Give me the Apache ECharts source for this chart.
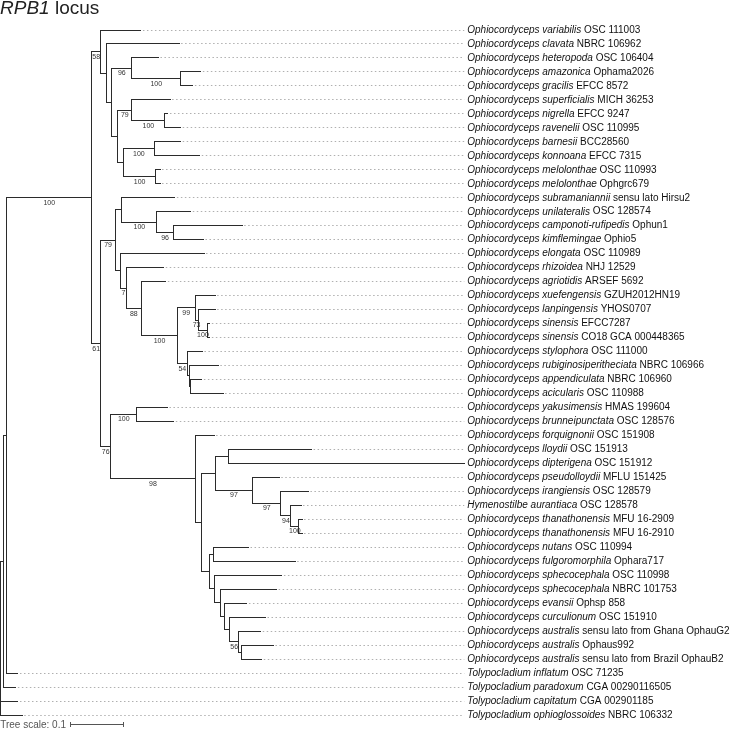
<!DOCTYPE html>
<html><head><meta charset="utf-8">
<script src="https://cdn.jsdelivr.net/npm/echarts@6/dist/echarts.min.js"></script>
<style>html,body{margin:0;padding:0;background:#fff}#c{width:730px;height:730px}</style>
</head><body><div id="c"></div>
<script>
// ---- data ----
const taxa = [
['Ophiocordyceps variabilis','OSC 111003'],
['Ophiocordyceps clavata','NBRC 106962'],
['Ophiocordyceps heteropoda','OSC 106404'],
['Ophiocordyceps amazonica','Ophama2026'],
['Ophiocordyceps gracilis','EFCC 8572'],
['Ophiocordyceps superficialis','MICH 36253'],
['Ophiocordyceps nigrella','EFCC 9247'],
['Ophiocordyceps ravenelii','OSC 110995'],
['Ophiocordyceps barnesii','BCC28560'],
['Ophiocordyceps konnoana','EFCC 7315'],
['Ophiocordyceps melolonthae','OSC 110993'],
['Ophiocordyceps melolonthae','Ophgrc679'],
['Ophiocordyceps subramaniannii','sensu lato Hirsu2'],
['Ophiocordyceps unilateralis','OSC 128574'],
['Ophiocordyceps camponoti-rufipedis','Ophun1'],
['Ophiocordyceps kimflemingae','Ophio5'],
['Ophiocordyceps elongata','OSC 110989'],
['Ophiocordyceps rhizoidea','NHJ 12529'],
['Ophiocordyceps agriotidis','ARSEF 5692'],
['Ophiocordyceps xuefengensis','GZUH2012HN19'],
['Ophiocordyceps lanpingensis','YHOS0707'],
['Ophiocordyceps sinensis','EFCC7287'],
['Ophiocordyceps sinensis','CO18 GCA 000448365'],
['Ophiocordyceps stylophora','OSC 111000'],
['Ophiocordyceps rubiginosiperitheciata','NBRC 106966'],
['Ophiocordyceps appendiculata','NBRC 106960'],
['Ophiocordyceps acicularis','OSC 110988'],
['Ophiocordyceps yakusimensis','HMAS 199604'],
['Ophiocordyceps brunneipunctata','OSC 128576'],
['Ophiocordyceps forquignonii','OSC 151908'],
['Ophiocordyceps lloydii','OSC 151913'],
['Ophiocordyceps dipterigena','OSC 151912'],
['Ophiocordyceps pseudolloydii','MFLU 151425'],
['Ophiocordyceps irangiensis','OSC 128579'],
['Hymenostilbe aurantiaca','OSC 128578'],
['Ophiocordyceps thanathonensis','MFU 16-2909'],
['Ophiocordyceps thanathonensis','MFU 16-2910'],
['Ophiocordyceps nutans','OSC 110994'],
['Ophiocordyceps fulgoromorphila','Ophara717'],
['Ophiocordyceps sphecocephala','OSC 110998'],
['Ophiocordyceps sphecocephala','NBRC 101753'],
['Ophiocordyceps evansii','Ophsp 858'],
['Ophiocordyceps curculionum','OSC 151910'],
['Ophiocordyceps australis','sensu lato from Ghana OphauG2'],
['Ophiocordyceps australis','Ophaus992'],
['Ophiocordyceps australis','sensu lato from Brazil OphauB2'],
['Tolypocladium inflatum','OSC 71235'],
['Tolypocladium paradoxum','CGA 00290116505'],
['Tolypocladium capitatum','CGA 002901185'],
['Tolypocladium ophioglossoides','NBRC 106332']
];

// distance from root of each tip (substitutions/site)
const tipDepth = [
0.265,0.337,0.298,0.378,0.363,0.320,0.316,0.340,0.340,0.376,
0.301,0.301,0.329,0.359,0.456,0.383,0.384,0.308,0.312,0.405,
0.405,0.395,0.395,0.381,0.411,0.380,0.420,0.315,0.327,0.403,
0.587,0.875,0.526,0.581,0.567,0.569,0.569,0.468,0.556,0.531,
0.521,0.465,0.500,0.491,0.515,0.493,0.033,0.029,0.033,0.041
];

// internal nodes: [id, depth, bootstrap, children (tip index or node id)]
const clades = [
['root',0.000,'',['T1',48,49]],
['T1',0.005,'',['T2',47]],
['T2',0.012,'',['A',46]],
['A',0.172,'100',['B','C']],
['B',0.189,'58',[0,'D']],
['D',0.200,'',[1,'E']],
['E',0.210,'',['F','G']],
['F',0.248,'96',[2,'H']],
['H',0.340,'100',[3,4]],
['G',0.221,'',['I','J']],
['I',0.248,'79',[5,'K']],
['K',0.310,'100',[6,7]],
['J',0.232,'',['L','M']],
['L',0.290,'100',[8,9]],
['M',0.293,'100',[10,11]],
['C',0.189,'61',['N','O']],
['N',0.217,'79',['P','Q']],
['P',0.229,'',[12,'R']],
['R',0.295,'100',[13,'S']],
['S',0.326,'96',[14,15]],
['Q',0.227,'',[16,'T']],
['T',0.237,'7',[17,'U']],
['U',0.266,'88',[18,'V']],
['V',0.334,'100',['W','X']],
['W',0.367,'99',[19,'Y']],
['Y',0.373,'73',[20,'Z']],
['Z',0.391,'100',[21,22]],
['X',0.352,'54',[23,'AB']],
['AB',0.356,'',[24,'AC']],
['AC',0.359,'',[25,26]],
['O',0.208,'76',['AD','AF']],
['AD',0.257,'100',[27,28]],
['AF',0.367,'98',[29,'AG']],
['AG',0.380,'',['AN','AO']],
['AN',0.405,'',['AH','AJ']],
['AH',0.430,'',[30,31]],
['AJ',0.476,'97',[32,'AK']],
['AK',0.529,'97',[33,'AL']],
['AL',0.548,'94',[34,'AM']],
['AM',0.563,'100',[35,36]],
['AO',0.394,'',['AP','AQ']],
['AP',0.402,'',[37,38]],
['AQ',0.403,'',[39,'AR']],
['AR',0.416,'',[40,'AS']],
['AS',0.422,'',[41,'AT']],
['AT',0.433,'',[42,'AU']],
['AU',0.449,'56',[43,'AV']],
['AV',0.455,'',[44,45]]
];

const titleItalic = 'RPB1';
const titleRest = ' locus';
const scaleLength = 0.1;
const scaleText = 'Tree scale: 0.1';

// ---- layout (rectangular cladogram, node y = midpoint of outer children) ----
const maxDepth = 0.875;
const nodeMap = {};
clades.forEach(c => nodeMap[c[0]] = {depth:c[1], support:c[2], children:c[3]});
const yMemo = {};
function yOf(ch){
  if (typeof ch === 'number') return ch;
  if (yMemo[ch] !== undefined) return yMemo[ch];
  const kids = nodeMap[ch].children;
  const v = (yOf(kids[0]) + yOf(kids[kids.length-1]))/2;
  yMemo[ch] = v; return v;
}
function depthOf(ch){ return typeof ch === 'number' ? tipDepth[ch] : nodeMap[ch].depth; }

const branchSegs = [];
const supportPts = [];
clades.forEach(c => {
  const d = c[1], kids = c[3];
  branchSegs.push([d, yOf(kids[0]), d, yOf(kids[kids.length-1])]);
  kids.forEach(k => {
    branchSegs.push([d, yOf(k), depthOf(k), yOf(k)]);
    if (typeof k !== 'number' && nodeMap[k].support) {
      supportPts.push([(d + nodeMap[k].depth)/2, yOf(k), nodeMap[k].support]);
    }
  });
});
const leafPts = taxa.map((t,i) => [tipDepth[i], i, maxDepth]);

const FF = '"Liberation Sans", Arial, Helvetica, sans-serif';
function crisp(v){ return Math.floor(v) + 0.5; }

const chart = echarts.init(document.getElementById('c'), null, {renderer:'canvas'});
chart.setOption({
  backgroundColor:'#fff',
  animation:false,
  grid:{left:0.5, top:30, width:maxDepth*530, height:685},
  xAxis:{type:'value', min:0, max:maxDepth, show:false},
  yAxis:{type:'value', min:0, max:49, inverse:true, show:false},
  graphic:[{
    type:'text', left:0, top:-1,
    style:{text:'{i|'+titleItalic+'}'+titleRest, fontSize:19, fontFamily:FF, fill:'#222',
      rich:{i:{fontStyle:'italic', fontSize:19, fontFamily:FF, fill:'#222'}}}
  }],
  series:[
    { // dotted leaf guides
      type:'custom', clip:false, silent:true, z:1,
      data:leafPts,
      renderItem:(p, api) => {
        const a = api.coord([api.value(0), api.value(1)]);
        const b = api.coord([api.value(2), api.value(1)]);
        if (b[0] - a[0] < 2) return {type:'group', children:[]};
        return {type:'line', shape:{x1:a[0]+2, y1:crisp(a[1]), x2:b[0], y2:crisp(a[1])},
          style:{stroke:'#b0b0b0', lineWidth:1, lineDash:[1.5,2.5]}};
      }
    },
    { // branches
      type:'custom', clip:false, silent:true, z:3,
      data:branchSegs,
      renderItem:(p, api) => {
        const a = api.coord([api.value(0), api.value(1)]);
        const b = api.coord([api.value(2), api.value(3)]);
        return {type:'line', shape:{x1:crisp(a[0]), y1:crisp(a[1]), x2:crisp(b[0]), y2:crisp(b[1])},
          style:{stroke:'#2b2b2b', lineWidth:1, lineCap:'square'}};
      }
    },
    { // bootstrap values
      type:'custom', clip:false, silent:true, z:2,
      data:supportPts,
      renderItem:(p, api) => {
        const a = api.coord([api.value(0), api.value(1)]);
        return {type:'text', x:a[0], y:a[1]+1.5,
          style:{text:supportPts[p.dataIndex][2], fontSize:7, fontFamily:FF, fill:'#333',
            align:'center', verticalAlign:'top'}};
      }
    },
    { // tip labels
      type:'custom', clip:false, silent:true, z:4,
      data:leafPts,
      renderItem:(p, api) => {
        const b = api.coord([api.value(2), api.value(1)]);
        const t = taxa[p.dataIndex];
        return {type:'text', x:b[0]+3, y:b[1],
          style:{text:'{i|'+t[0]+'} '+t[1], fontSize:10, fontFamily:FF, fill:'#111',
            align:'left', verticalAlign:'middle',
            rich:{i:{fontStyle:'italic', fontSize:10, fontFamily:FF, fill:'#111'}}}};
      }
    },
    { // scale bar
      type:'custom', clip:false, silent:true, z:4,
      data:[[0.133, 49.7]],
      renderItem:(p, api) => {
        const a = api.coord([api.value(0), api.value(1)]);
        const b = api.coord([api.value(0) + scaleLength, api.value(1)]);
        const y = crisp(a[1]), x1 = crisp(a[0]), x2 = crisp(b[0]);
        const st = {stroke:'#555', lineWidth:1};
        return {type:'group', children:[
          {type:'line', shape:{x1:x1, y1:y, x2:x2, y2:y}, style:st},
          {type:'line', shape:{x1:x1, y1:y-2.5, x2:x1, y2:y+2.5}, style:st},
          {type:'line', shape:{x1:x2, y1:y-2.5, x2:x2, y2:y+2.5}, style:st},
          {type:'text', x:a[0]-5, y:a[1], style:{text:scaleText, fontSize:10, fontFamily:FF,
            fill:'#555', align:'right', verticalAlign:'middle'}}
        ]};
      }
    }
  ]
});
</script>
</body></html>
